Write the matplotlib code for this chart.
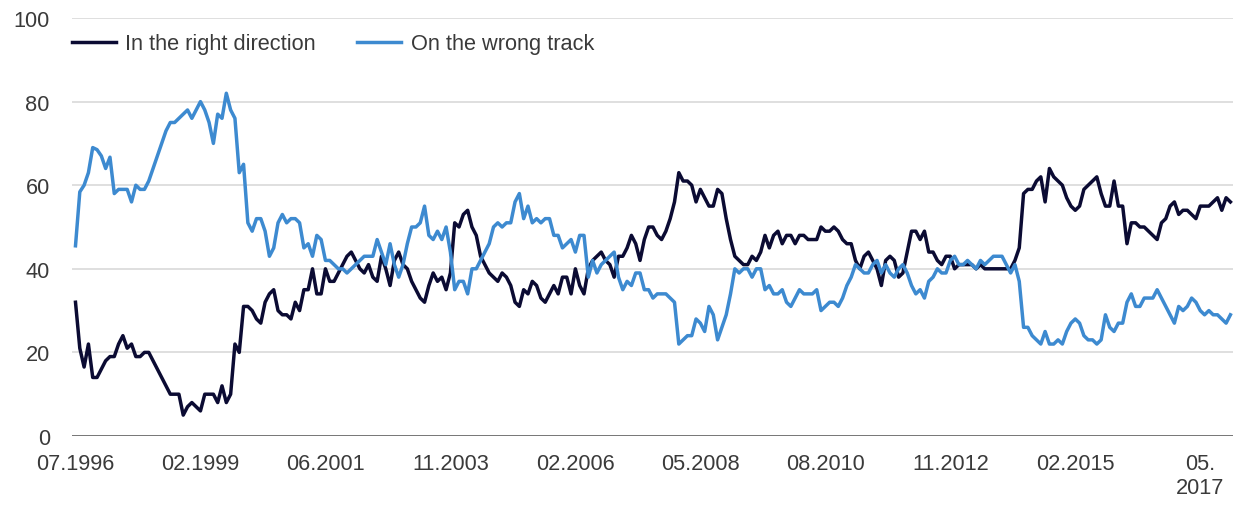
import numpy as np
import matplotlib
matplotlib.use("Agg")
import matplotlib.pyplot as plt

plt.rcParams['font.family'] = ['Liberation Sans', 'DejaVu Sans']

# share of respondents (%), one value per survey
right_direction = [
    32, 21, 16.5, 22, 14, 14, 16, 18, 19, 19, 22, 24, 21, 22, 19, 19, 20, 20, 18, 16,
    14, 12, 10, 10, 10, 5, 7, 8, 7, 6, 10, 10, 10, 8, 12, 8, 10, 22, 20, 31,
    31, 30, 28, 27, 32, 34, 35, 30, 29, 29, 28, 32, 30, 35, 35, 40, 34, 34, 40, 37,
    37, 39, 41, 43, 44, 42, 40, 39, 41, 38, 37, 43, 40, 36, 42, 44, 41, 40, 37, 35,
    33, 32, 36, 39, 37, 38, 35, 39, 51, 50, 53, 54, 50, 48, 43, 41, 39, 38, 37, 39,
    38, 36, 32, 31, 35, 34, 37, 36, 33, 32, 34, 36, 34, 38, 38, 34, 40, 36, 34, 40,
    42, 43, 44, 42, 41, 38, 43, 43, 45, 48, 46, 42, 47, 50, 50, 48, 47, 49, 52, 56,
    63, 61, 61, 60, 56, 59, 57, 55, 55, 59, 58, 52, 47, 43, 42, 41, 41, 43, 42, 44,
    48, 45, 48, 49, 46, 48, 48, 46, 48, 48, 47, 47, 47, 50, 49, 49, 50, 49, 47, 46,
    46, 42, 40, 43, 44, 42, 40, 36, 42, 43, 42, 38, 39, 44, 49, 49, 47, 49, 44, 44,
    42, 41, 43, 43, 40, 41, 41, 41, 41, 40, 41, 40, 40, 40, 40, 40, 40, 40, 42, 45,
    58, 59, 59, 61, 62, 56, 64, 62, 61, 60, 57, 55, 54, 55, 59, 60, 61, 62, 58, 55,
    55, 61, 55, 55, 46, 51, 51, 50, 50, 49, 48, 47, 51, 52, 55, 56, 53, 54, 54, 53,
    52, 55, 55, 55, 56, 57, 54, 57, 56,
]
wrong_track = [
    45.5, 58.4, 60, 63, 69, 68.5, 67, 64, 66.7, 58, 59, 59, 59, 56, 60, 59, 59, 61, 64, 67,
    70, 73, 75, 75, 76, 77, 78, 76, 78, 80, 78, 75, 70, 77, 76, 82, 78, 76, 63, 65,
    51, 49, 52, 52, 49, 43, 45, 51, 53, 51, 52, 52, 51, 45, 46, 43, 48, 47, 42, 42,
    41, 40, 40, 39, 40, 41, 42, 43, 43, 43, 47, 44, 41, 46, 41, 38, 41, 46, 50, 50,
    51, 55, 48, 47, 49, 47, 50, 44, 35, 37, 37, 34, 40, 40, 42, 44, 46, 50, 51, 50,
    51, 51, 56, 58, 52, 55, 51, 52, 51, 52, 52, 48, 48, 45, 46, 47, 44, 48, 48, 38,
    42, 39, 41, 42, 43, 44, 38, 35, 37, 36, 39, 39, 35, 35, 33, 34, 34, 34, 33, 32,
    22, 23, 24, 24, 28, 27, 25, 31, 29, 23, 26, 29, 34, 40, 39, 40, 40, 38, 40, 40,
    35, 36, 34, 34, 35, 32, 31, 33, 35, 34, 34, 34, 35, 30, 31, 32, 32, 31, 33, 36,
    38, 41, 40, 39, 39, 41, 42, 39, 41, 39, 38, 40, 41, 39, 36, 34, 35, 33, 37, 38,
    40, 39, 39, 42, 43, 41, 41, 42, 41, 40, 42, 41, 42, 43, 43, 43, 41, 39, 41, 37,
    26, 26, 24, 23, 22, 25, 22, 22, 23, 22, 25, 27, 28, 27, 24, 23, 23, 22, 23, 29,
    26, 25, 27, 27, 32, 34, 31, 31, 33, 33, 33, 35, 33, 31, 29, 27, 31, 30, 31, 33,
    32, 30, 29, 30, 29, 29, 28, 27, 29,
]
tick_labels = ["07.1996", "02.1999", "06.2001", "11.2003", "02.2006",
               "05.2008", "08.2010", "11.2012", "02.2015", "05.\n2017"]
tick_every = 29

x = np.arange(len(right_direction))

fig = plt.figure(figsize=(12.33, 5.06), dpi=100)
ax = fig.add_axes([72 / 1233, 69 / 506, 1161 / 1233, 418 / 506])

ax.plot(x, right_direction, color='#0b0b33', lw=2.5, label='In the right direction', zorder=3)
ax.plot(x, wrong_track, color='#3d8ad0', lw=2.5, label='On the wrong track', zorder=4)

ax.set_xlim(-0.81, 268.6)
ax.set_ylim(0, 100)

for s in ax.spines.values():
    s.set_visible(False)
ax.set_yticks(range(0, 101, 20))
ax.grid(axis='y', color='#d9d9d9', lw=1.2)
ax.axhline(0, color='#6f6f6f', lw=1.3, zorder=2)
ax.set_axisbelow(True)

ax.set_xticks(np.arange(len(tick_labels)) * tick_every)
ax.set_xticklabels(tick_labels)
ax.tick_params(axis='both', length=0, labelsize=15.7, labelcolor='#3a3a3a')
ax.tick_params(axis='x', pad=12)
ax.tick_params(axis='y', pad=16)

leg = ax.legend(ncol=2, loc='center left', bbox_to_anchor=(0.0, 0.938), frameon=False,
                fontsize=15.7, handlelength=2.0, handletextpad=0.45, columnspacing=1.9,
                borderpad=0, borderaxespad=0)
for t in leg.get_texts():
    t.set_color('#3a3a3a')

fig.savefig('out.png', dpi=100)
